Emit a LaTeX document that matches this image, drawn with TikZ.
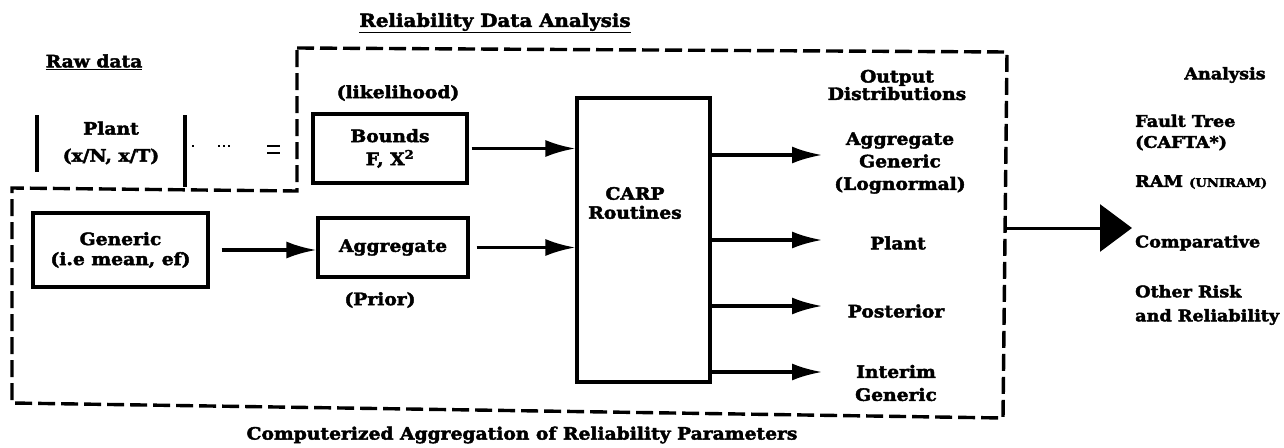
\documentclass[tikz,border=0pt]{standalone}
\usepackage{fontspec}
\setmainfont{DejaVu Serif}[FakeStretch=1.1, BoldFont={DejaVu Serif Bold}, BoldFeatures={FakeBold=2.5}]
\usetikzlibrary{arrows.meta}
\begin{document}
\begin{tikzpicture}[x=1pt,y=-1pt,
  every node/.style={font=\fontsize{17}{22}\selectfont\bfseries},
  box/.style={draw, line width=3.2pt, inner sep=0pt, align=center},
  lbl/.style={align=center, inner sep=0pt},
  rlbl/.style={align=left, inner sep=0pt, anchor=west, font=\fontsize{16}{21}\selectfont\bfseries},
  arr/.style={line width=3.2pt, -{Latex[length=30pt,width=17pt]}},
  bnd/.style={line width=3.4pt, dash pattern=on 17pt off 6pt},
  bar/.style={line width=3.2pt}
]
\useasboundingbox (0,0) rectangle (1284,447);

% region boundary
\draw[bnd] (297,48) -- (1007,52) -- (1003,418) -- (12,403) -- (12,188) -- (297,191) -- cycle;

% titles
\node[lbl, font=\fontsize{18}{20}\selectfont\bfseries] (t1) at (495,23) {\underline{Reliability Data Analysis}};
\node[lbl] (raw) at (94,62) {\underline{Raw data}};
\node[lbl] (bt) at (522,435) {Computerized Aggregation of Reliability Parameters};

% raw data
\node[lbl, font=\fontsize{17}{27}\selectfont\bfseries] (plant) at (111,143) {Plant\\(x/N, x/T)};
\draw[bar] (37,115) -- (37,172);
\draw[bar] (185,115) -- (185,187);
\draw[line width=2.6pt, dash pattern=on 2pt off 24pt on 2pt off 3pt on 2pt off 3pt on 2pt off 37pt on 13pt off 100pt] (192,146) -- (290,146);
\draw[line width=2.6pt] (267,153) -- (280,153);

\node[box, minimum width=175pt, minimum height=74pt, font=\fontsize{17}{20}\selectfont\bfseries] (generic) at (120.5,250) {Generic\\(i.e mean, ef)};

% likelihood / prior
\node[lbl] (lik) at (398,93) {(likelihood)};
\node[box, minimum width=154pt, minimum height=69pt, font=\fontsize{17}{23}\selectfont\bfseries] (bayes) at (390,148.5) {Bounds\\F, X\textsuperscript{2}};
\node[box, minimum width=150pt, minimum height=59pt] (aggr) at (393,247.5) {Aggregate};
\node[lbl] (prior) at (380,300) {(Prior)};

% CARP
\node[box, minimum width=133pt, minimum height=284pt] (carp) at (643.5,240) {};
\node[lbl, font=\fontsize{17}{19}\selectfont\bfseries] (carpl) at (635,203) {CARP\\Routines};

\draw[arr, shorten <=3pt] (bayes.east) -- (bayes.east -| carp.west);
\draw[arr, shorten <=12pt] (generic.east) -- (generic.east -| aggr.west);
\draw[arr, shorten <=7pt] (aggr.east) -- (aggr.east -| carp.west);

% outputs
\coordinate (o1) at (822,155);
\coordinate (o2) at (822,240);
\coordinate (o3) at (822,306);
\coordinate (o4) at (822,372);
\draw[arr] (carp.east |- o1) -- (o1);
\draw[arr] (carp.east |- o2) -- (o2);
\draw[arr] (carp.east |- o3) -- (o3);
\draw[arr] (carp.east |- o4) -- (o4);

\node[lbl, font=\fontsize{17}{16}\selectfont\bfseries] (outd) at (897,85) {Output\\Distributions};
\node[lbl, font=\fontsize{17}{22.5}\selectfont\bfseries] (agg) at (900,163) {Aggregate\\Generic\\(Lognormal)};
\node[lbl] (pl) at (898,243) {Plant};
\node[lbl] (post) at (896,311) {Posterior};
\node[lbl, font=\fontsize{17}{23}\selectfont\bfseries] (inter) at (896,383) {Interim\\Generic};

% to analysis
\coordinate (outL) at (1005,228);
\coordinate (outR) at (1132,228);
\draw[line width=3pt, -{Triangle[length=32pt,width=47pt]}] (outL) -- (outR);

\node[lbl, font=\fontsize{16}{21}\selectfont\bfseries] (an) at (1225,75) {Analysis};
\node[rlbl] (ft) at (1135,132.5) {Fault Tree\\(CAFTA*)};
\node[rlbl] (ram) at (1135,182) {RAM {\fontsize{12}{12}\selectfont (UNIRAM)}};
\node[rlbl] (comp) at (1135,243) {Comparative};
\node[rlbl, font=\fontsize{16}{24}\selectfont\bfseries] (oth) at (1135,305) {Other Risk\\and Reliability};
\end{tikzpicture}
\end{document}
